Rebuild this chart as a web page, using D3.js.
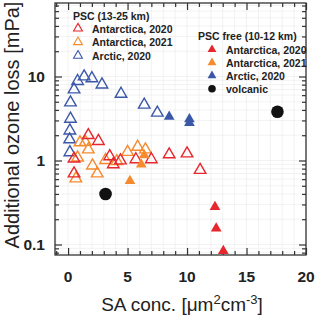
<!DOCTYPE html>
<html>
<head>
<meta charset="utf-8">
<script src="https://cdn.jsdelivr.net/npm/d3@7"></script>
<style>
  body { margin: 0; background: #fff; }
  svg { display: block; font-family: "Liberation Sans", Arial, sans-serif; }
</style>
</head>
<body>
<svg width="320" height="315"></svg>
<script>
var svg = d3.select('svg');

// colours for the three campaigns
var colors = { ant20: '#e8262d', ant21: '#f58b2e', arc20: '#3b58a8' };

// PSC (13-25 km), open triangles: [SA conc, ozone loss]
var pscAnt2020 = [[0.5, 1.05], [0.5, 0.70], [1.7, 2.0], [2.55, 1.7], [3.5, 1.12], [3.8, 0.90],
  [4.4, 1.0], [5.7, 1.03], [7.0, 1.03], [8.5, 1.18], [10.0, 1.21], [11.1, 0.77]];
var pscAnt2021 = [[1.0, 1.64], [1.45, 1.66], [1.7, 1.35], [0.8, 1.08], [0.65, 0.61], [2.05, 0.87],
  [2.45, 0.70], [3.15, 1.01], [4.1, 0.98], [5.0, 1.26], [5.85, 1.45], [6.5, 1.35]];
var pscArc2020 = [[0.15, 1.25], [0.13, 1.78], [0.15, 2.27], [0.2, 3.13], [0.2, 4.9], [0.5, 7.0],
  [0.8, 8.8], [1.35, 10.0], [2.0, 9.5], [2.85, 8.0], [4.45, 6.2], [6.4, 4.6], [7.5, 3.7]];

// PSC free (10-12 km), filled triangles
var freeAnt2020 = [[12.35, 0.28], [12.45, 0.155], [13.05, 0.084]];
var freeAnt2021 = [[6.4, 1.16], [6.15, 0.90], [5.2, 0.57]];
var freeArc2020 = [[8.5, 3.33], [10.2, 3.11], [10.2, 2.8]];

// volcanic
var volcanic = [[3.15, 0.40], [17.6, 3.8]];

var xTicks = [0, 5, 10, 15, 20];
var yTicks = [0.1, 1, 10];

var legendPsc = [['Antarctica, 2020', 'ant20'], ['Antarctica, 2021', 'ant21'], ['Arctic, 2020', 'arc20']];
var legendFree = [['Antarctica, 2020', 'ant20'], ['Antarctica, 2021', 'ant21'], ['Arctic, 2020', 'arc20'], ['volcanic', 'volc']];

var pLeft = 55, pRight = 306, pTop = 3, pBottom = 255;

var x = d3.scaleLinear().domain([-1.1, 20]).range([pLeft, pRight]);
var y = d3.scaleLog().domain([0.075, 75]).range([pBottom, pTop]);

// minor tick values
var xMinor = d3.range(-1, 21, 1);
var yMinor = [];
[0.01, 0.1, 1, 10].forEach(function (d) {
  for (var k = 1; k < 10; k++) {
    var v = d * k;
    if (v >= 0.075 && v <= 75) yMinor.push(v);
  }
});

// grid
var grid = svg.append('g').attr('stroke', '#ececec').attr('stroke-width', 0.7);
grid.selectAll('.gx').data(xMinor).join('line')
  .attr('x1', d => x(d)).attr('x2', d => x(d)).attr('y1', pTop).attr('y2', pBottom);
grid.selectAll('.gy').data(yMinor).join('line')
  .attr('x1', pLeft).attr('x2', pRight).attr('y1', d => y(d)).attr('y2', d => y(d));

// axes with inward ticks, mirrored on all sides
function isMajorX(d) { return xTicks.indexOf(d) >= 0; }
function isMajorY(d) { return yTicks.some(t => Math.abs(t - d) < 1e-9); }

var axisColor = '#333';
svg.append('g')
  .attr('transform', 'translate(0,' + pBottom + ')')
  .call(d3.axisBottom(x).tickValues(xMinor).tickSize(0).tickFormat(''))
  .call(g => g.select('.domain').remove())
  .call(g => g.selectAll('.tick line').attr('stroke', axisColor).attr('stroke-width', 1.2)
    .attr('y2', d => isMajorX(d) ? -7 : -4));
svg.append('g')
  .attr('transform', 'translate(0,' + pTop + ')')
  .call(d3.axisTop(x).tickValues(xMinor).tickSize(0).tickFormat(''))
  .call(g => g.select('.domain').remove())
  .call(g => g.selectAll('.tick line').attr('stroke', axisColor).attr('stroke-width', 1.2)
    .attr('y2', d => isMajorX(d) ? 7 : 4));
svg.append('g')
  .attr('transform', 'translate(' + pLeft + ',0)')
  .call(d3.axisLeft(y).tickValues(yMinor).tickSize(0).tickFormat(''))
  .call(g => g.select('.domain').remove())
  .call(g => g.selectAll('.tick line').attr('stroke', axisColor).attr('stroke-width', 1.2)
    .attr('x2', d => isMajorY(d) ? 7 : 4));
svg.append('g')
  .attr('transform', 'translate(' + pRight + ',0)')
  .call(d3.axisRight(y).tickValues(yMinor).tickSize(0).tickFormat(''))
  .call(g => g.select('.domain').remove())
  .call(g => g.selectAll('.tick line').attr('stroke', axisColor).attr('stroke-width', 1.2)
    .attr('x2', d => isMajorY(d) ? -7 : -4));

// frame
svg.append('rect')
  .attr('x', pLeft).attr('y', pTop).attr('width', pRight - pLeft).attr('height', pBottom - pTop)
  .attr('fill', 'none').attr('stroke', axisColor).attr('stroke-width', 1.3);

// tick labels
svg.append('g').selectAll('text').data(xTicks).join('text')
  .attr('x', d => x(d)).attr('y', 282)
  .attr('text-anchor', 'middle').attr('font-size', 15.5).attr('font-weight', 'bold').attr('fill', '#222')
  .text(d => d);
svg.append('g').selectAll('text').data(yTicks).join('text')
  .attr('x', 45).attr('y', d => y(d) + 5.5)
  .attr('text-anchor', 'end').attr('font-size', 15.5).attr('font-weight', 'bold').attr('fill', '#222')
  .text(d => d);

// axis titles
svg.append('text')
  .attr('transform', 'translate(19,' + 125 + ')rotate(-90)')
  .attr('text-anchor', 'middle').attr('font-size', 20).attr('fill', '#222')
  .text('Additional ozone loss [mPa]');
var xt = svg.append('text')
  .attr('x', 182).attr('y', 311)
  .attr('text-anchor', 'middle').attr('font-size', 19).attr('fill', '#222');
xt.append('tspan').text('SA conc. [μm');
xt.append('tspan').attr('font-size', 13).attr('dy', -7).text('2');
xt.append('tspan').attr('dy', 7).text('cm');
xt.append('tspan').attr('font-size', 13).attr('dy', -7).text('-3');
xt.append('tspan').attr('dy', 7).text(']');

// markers
var openTri = d3.symbol().type(d3.symbolTriangle).size(58);
var fillTri = d3.symbol().type(d3.symbolTriangle).size(50);

function drawOpen(data, c) {
  svg.append('g').selectAll('path').data(data).join('path')
    .attr('transform', d => 'translate(' + x(d[0]) + ',' + y(d[1]) + ')')
    .attr('d', openTri).attr('fill', 'none').attr('stroke', colors[c]).attr('stroke-width', 1.4);
}
function drawFilled(data, c) {
  svg.append('g').selectAll('path').data(data).join('path')
    .attr('transform', d => 'translate(' + x(d[0]) + ',' + y(d[1]) + ')')
    .attr('d', fillTri).attr('fill', colors[c]);
}
drawOpen(pscArc2020, 'arc20');
drawOpen(pscAnt2021, 'ant21');
drawOpen(pscAnt2020, 'ant20');
drawFilled(freeArc2020, 'arc20');
drawFilled(freeAnt2021, 'ant21');
drawFilled(freeAnt2020, 'ant20');
svg.append('g').selectAll('circle').data(volcanic).join('circle')
  .attr('cx', d => x(d[0])).attr('cy', d => y(d[1])).attr('r', 6.3).attr('fill', '#111');

// legends
var legSym = d3.symbol().type(d3.symbolTriangle).size(34);
var leg1 = svg.append('g').attr('font-size', 10.5).attr('font-weight', 'bold').attr('fill', '#222');
leg1.append('text').attr('x', 73).attr('y', 19.5).text('PSC (13-25 km)');
legendPsc.forEach(function (d, i) {
  var cy = 28.5 + i * 13.6;
  leg1.append('path').attr('transform', 'translate(78,' + cy + ')').attr('d', legSym)
    .attr('fill', 'none').attr('stroke', colors[d[1]]).attr('stroke-width', 1.1);
  leg1.append('text').attr('x', 92).attr('y', cy + 4).text(d[0]);
});
var leg2 = svg.append('g').attr('font-size', 10.5).attr('font-weight', 'bold').attr('fill', '#222');
leg2.append('text').attr('x', 198).attr('y', 39.5).text('PSC free (10-12 km)');
legendFree.forEach(function (d, i) {
  var cy = 49.5 + i * 13.1;
  if (d[1] === 'volc') {
    leg2.append('circle').attr('cx', 212).attr('cy', cy).attr('r', 3.8).attr('fill', '#111');
  } else {
    leg2.append('path').attr('transform', 'translate(212,' + cy + ')').attr('d', legSym)
      .attr('fill', colors[d[1]]);
  }
  leg2.append('text').attr('x', 226).attr('y', cy + 4).text(d[0]);
});
</script>
</body>
</html>
